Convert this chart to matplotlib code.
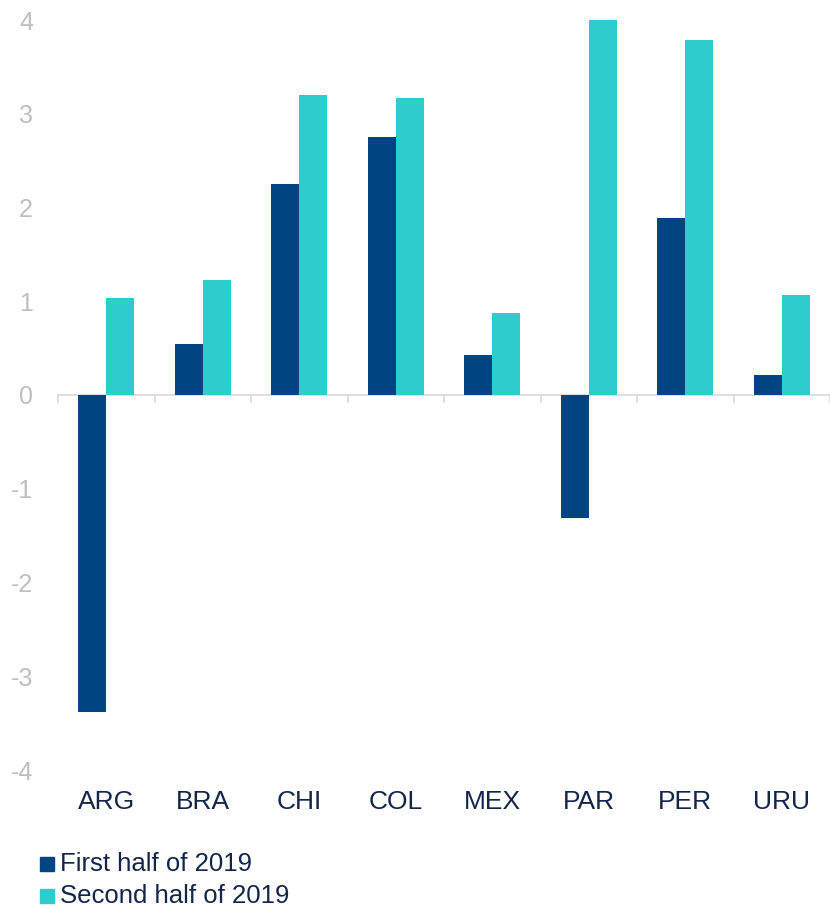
import matplotlib
matplotlib.use("Agg")
import matplotlib.pyplot as plt
import numpy as np
from matplotlib.patches import Rectangle
from matplotlib.transforms import offset_copy

categories = ["ARG", "BRA", "CHI", "COL", "MEX", "PAR", "PER", "URU"]
first_half = [-3.38, 0.54, 2.25, 2.75, 0.43, -1.31, 1.89, 0.21]
second_half = [1.04, 1.23, 3.20, 3.17, 0.87, 4.00, 3.79, 1.07]
series_names = ["First half of 2019", "Second half of 2019"]
yticks = [-4, -3, -2, -1, 0, 1, 2, 3, 4]

c1 = "#004481"
c2 = "#2DCCCD"
plt.rcParams['font.family'] = ['Liberation Sans', 'DejaVu Sans']

fig = plt.figure(figsize=(8.3, 9.08), dpi=100)
ax = fig.add_axes([58/830, 1-770/908, 1-58/830, (770-20)/908])

x = np.arange(len(categories))
w = 0.29
ax.bar(x - w/2, first_half, width=w, color=c1, label=series_names[0], clip_on=False, zorder=3)
ax.bar(x + w/2, second_half, width=w, color=c2, label=series_names[1], clip_on=False, zorder=3)

ax.set_xlim(-0.5, len(categories) - 0.5)
ax.set_ylim(-4, 4)
ax.set_yticks(yticks)
ax.set_yticklabels([str(t) for t in yticks], fontsize=18, color="#BFBFBF")
ax.tick_params(axis='y', length=0, pad=18)

for s in ax.spines.values():
    s.set_visible(False)
ax.axhline(0, color="#D9D9D9", lw=1.2, zorder=2)
for b in np.arange(-0.5, len(categories), 1.0):
    ax.plot([b, b], [0, -0.075], color="#D9D9D9", lw=1.2, zorder=2, clip_on=False)

ax.set_xticks(x)
ax.set_xticklabels([])
ax.tick_params(axis='x', length=0)
trans = offset_copy(ax.transData, fig=fig, x=0, y=-32, units='dots')
for xi, lab in zip(x, categories):
    ax.text(xi, -4.0, lab, transform=trans, ha='center', va='center',
            fontsize=19, color="#14254A")

# legend
for i, (name, col) in enumerate(zip(series_names, [c1, c2])):
    yc = 1 - (864 + 32*i)/908
    fig.patches.append(Rectangle((40/830, yc - 7/908), 14/830, 14/908,
                                 transform=fig.transFigure, color=col, figure=fig))
    fig.text(60/830, yc, name, fontsize=18.5, color="#14254A", va='center', ha='left')

fig.savefig("out.png", dpi=100)
